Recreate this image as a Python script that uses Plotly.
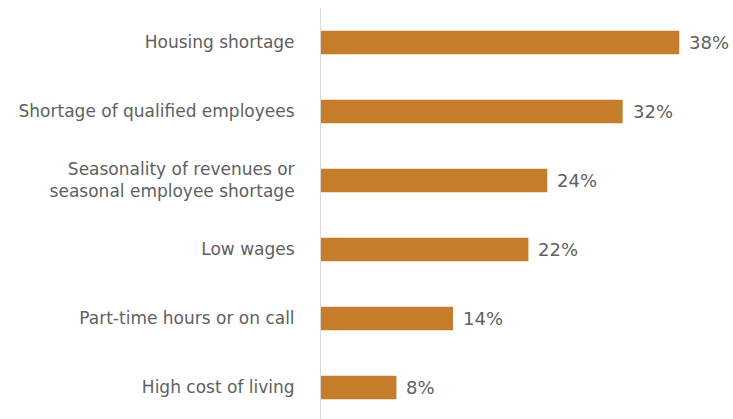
import plotly.graph_objects as go

categories = [
    "Housing shortage",
    "Shortage of qualified employees",
    "Seasonality of revenues or<br>seasonal employee shortage",
    "Low wages",
    "Part-time hours or on call",
    "High cost of living",
]
values = [38, 32, 24, 22, 14, 8]
value_labels = ["38%", "32%", "24%", "22%", "14%", "8%"]

bar_color = "#C57D2C"
text_color = "#606060"
font_family = "DejaVu Sans"

fig = go.Figure(
    go.Bar(
        x=values,
        y=categories,
        orientation="h",
        marker=dict(color=bar_color, line=dict(width=0)),
        width=0.34,
        hoverinfo="skip",
    )
)

for cat, val, lab in zip(categories, values, value_labels):
    fig.add_annotation(
        x=val, y=cat, text=lab, showarrow=False,
        xanchor="left", xshift=8,
        font=dict(family=font_family, size=18, color=text_color),
    )

fig.update_layout(
    width=733, height=419,
    margin=dict(l=321, r=0, t=8, b=0),
    paper_bgcolor="white", plot_bgcolor="white",
    showlegend=False,
    font=dict(family=font_family, size=17, color=text_color),
)
fig.update_xaxes(range=[0, 43.7], visible=False)
fig.update_yaxes(
    categoryorder="array", categoryarray=categories,
    range=[5.457, -0.5],
    showline=True, linecolor="#D9D9D9", linewidth=1,
    showgrid=False, zeroline=False, ticks="",
    ticklabelstandoff=22,
    tickfont=dict(family=font_family, size=17, color=text_color),
)

fig.write_html("out.html")
